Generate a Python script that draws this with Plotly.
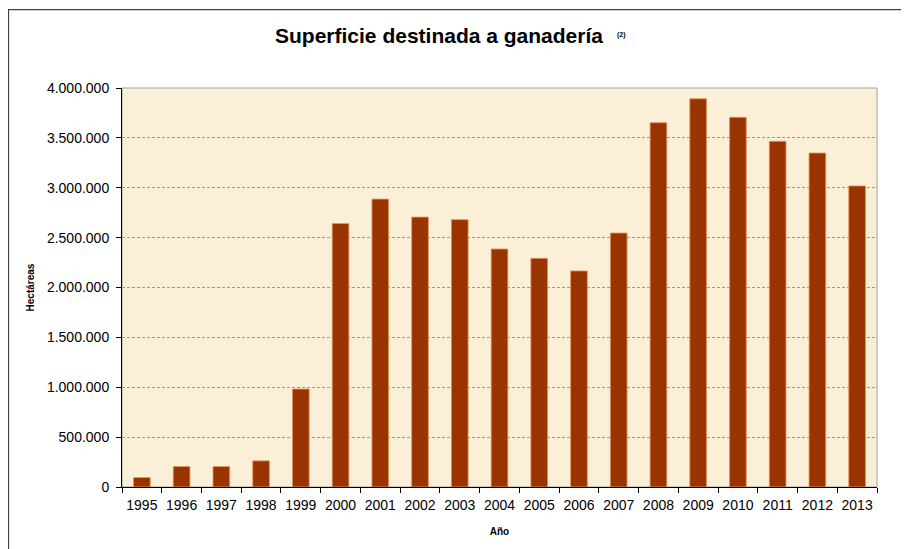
import plotly.graph_objects as go

years = ["1995", "1996", "1997", "1998", "1999", "2000", "2001", "2002", "2003", "2004",
         "2005", "2006", "2007", "2008", "2009", "2010", "2011", "2012", "2013"]
hectareas = [95000, 205000, 205000, 262000, 982000, 2642000, 2886000, 2706000, 2680000, 2386000,
             2292000, 2166000, 2546000, 3652000, 3892000, 3706000, 3466000, 3348000, 3018000]

title_text = "Superficie destinada a ganadería"
note_text = "(2)"
y_title = "Hectáreas"
x_title = "Año"

W, H = 901, 541          # page body has an 8px offset
L, T = 114, 79.5
PW, PH = 755, 400

fig = go.Figure()
fig.add_trace(go.Bar(
    x=years, y=hectareas,
    marker=dict(color="#993300", line=dict(color="rgba(225,150,100,0.85)", width=1)),
))

FONT = "Liberation Sans, Arial, sans-serif"

fig.update_layout(
    width=W, height=H,
    margin=dict(l=L, r=W - L - PW, t=T, b=H - T - PH, autoexpand=False),
    paper_bgcolor="white",
    plot_bgcolor="#FCEFD7",
    bargap=0.58,
    separators=",.",
    showlegend=False,
    font=dict(family=FONT, color="black", size=14),
    title=dict(
        text="<b>" + title_text + "</b>",
        x=(439 - 8) / W, xanchor="center", xref="container",
        y=1 - (36 - 8) / H, yref="container", yanchor="middle",
        font=dict(family=FONT, size=21, color="black"),
    ),
)

fig.add_annotation(
    text="<b>" + note_text + "</b>", xref="paper", yref="paper",
    x=(621 - 8 - L) / PW, y=(T + PH - (34 - 8)) / PH, xanchor="center", yanchor="middle",
    showarrow=False, font=dict(family=FONT, size=7, color="black"),
)

fig.update_xaxes(
    type="category", automargin=False,
    showline=True, linecolor="black", linewidth=1,
    ticks="outside", ticklen=5, tickcolor="black", tickson="boundaries",
    tickangle=0, ticklabelstandoff=5,
    tickfont=dict(size=14, family=FONT),
    title=dict(text="<b>" + x_title + "</b>", font=dict(size=10, family=FONT), standoff=16),
    showgrid=False,
)
fig.update_yaxes(
    range=[0, 4000000], dtick=500000, tickformat=",d", automargin=False,
    showline=True, linecolor="black", linewidth=1,
    ticks="outside", ticklen=5, tickcolor="black", ticklabelstandoff=4,
    tickfont=dict(size=14, family=FONT),
    showgrid=True, gridcolor="#9a9a9a", gridwidth=1, griddash="3px,2px",
    zeroline=False,
    title=dict(text="<b>" + y_title + "</b>", font=dict(size=10, family=FONT), standoff=10),
)

# plot area border (top/right gray)
fig.add_shape(type="rect", xref="paper", yref="paper", x0=0, x1=1, y0=0, y1=1,
              line=dict(color="#a0a0a0", width=1), layer="below")
# outer chart frame
fig.add_shape(type="rect", xref="paper", yref="paper",
              x0=(0.5 - L) / PW, x1=(895 - L) / PW,
              y0=(T + PH - 570) / PH, y1=(T + PH - 1) / PH,
              line=dict(color="#404040", width=1.2), fillcolor="rgba(0,0,0,0)", layer="below")

fig.write_html("out.html")
